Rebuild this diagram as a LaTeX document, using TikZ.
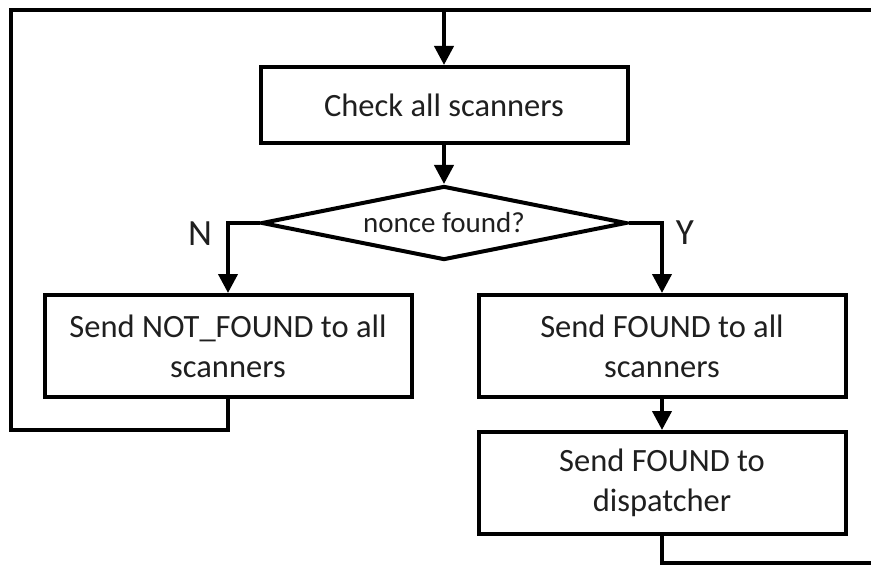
\documentclass[tikz,border=0pt]{standalone}
\usepackage{fontspec}
\setmainfont{Carlito}
\usetikzlibrary{shapes.geometric,arrows.meta}
\begin{document}
\begin{tikzpicture}[x=1pt,y=-1pt,
  box/.style={draw,line width=4pt,rectangle,align=center,inner sep=0pt,
    minimum width=367pt,minimum height=102pt,text=black!88,
    font=\fontsize{32.5}{40}\selectfont},
  dec/.style={draw,line width=4pt,diamond,inner sep=0pt,aspect=5,
    minimum width=365pt,minimum height=74pt,text=black!88,
    font=\fontsize{29}{34}\selectfont},
  line/.style={line width=4pt},
  arr/.style={line width=4pt,-{Triangle[length=19pt,width=19pt]}},
  lbl/.style={font=\fontsize{37}{40}\selectfont,text=black!88}]
\useasboundingbox (0,0) rectangle (871,567);
\node[box,minimum height=76pt] (check) at (444,105) {Check all scanners};
\node[dec] (dec) at (444,223) {nonce found?};
\node[box] (nf) at (228,346) {Send NOT\_FOUND to all\\scanners};
\node[box] (fd) at (662,346) {Send FOUND to all\\scanners};
\node[box] (disp) at (662,483) {Send FOUND to\\dispatcher};
\coordinate (tl) at (11,10);
\coordinate (tr) at (880,10);
\coordinate (bl) at (11,430);
\coordinate (br) at (880,563);
\node[lbl] (n) at (200,234) {N};
\node[lbl] (y) at (685,233) {Y};
\draw[line] (nf.south) |- (bl) -- (tl) -- (tr);
\draw[arr] (check.north |- tl) -- (check.north);
\draw[arr] (check.south) -- (dec.north);
\draw[arr] (dec.west) -| (nf.north);
\draw[arr] (dec.east) -| (fd.north);
\draw[arr] (fd.south) -- (disp.north);
\draw[line] (disp.south) |- (br);
\end{tikzpicture}
\end{document}
